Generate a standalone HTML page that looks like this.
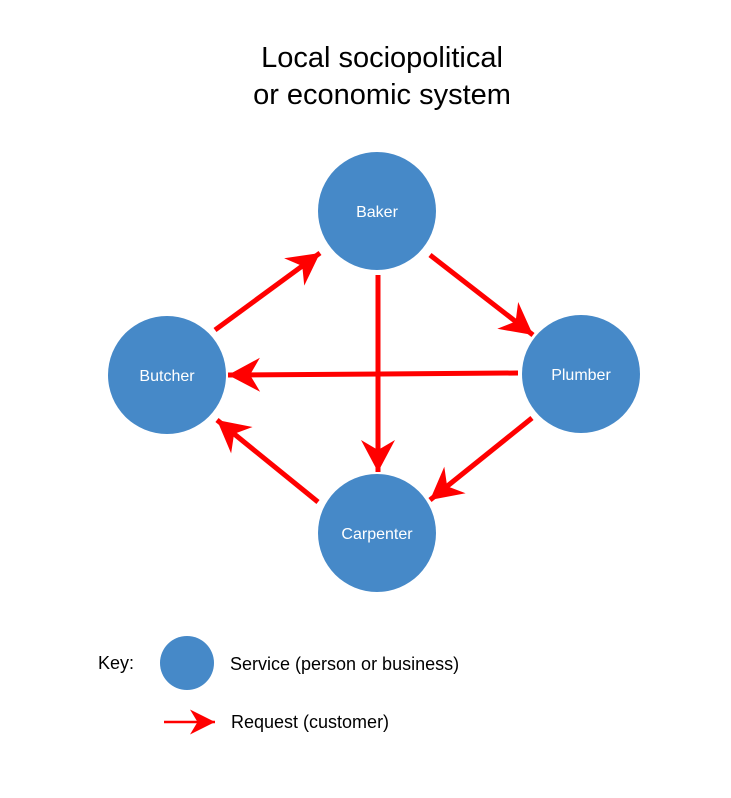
<!DOCTYPE html>
<html><head><style>
body{margin:0;background:#fff;}
svg{display:block;}
text{font-family:"Liberation Sans",sans-serif;}
</style></head><body>
<svg width="731" height="798" viewBox="0 0 731 798">
<defs>
<marker id="a" markerUnits="userSpaceOnUse" markerWidth="40" markerHeight="40" refX="0" refY="0" viewBox="-32 -20 34 40" orient="auto" overflow="visible">
<path d="M0,0 L-32,-17 L-22,0 L-32,17 Z" fill="#f00"/>
</marker>
<marker id="b" markerUnits="userSpaceOnUse" markerWidth="30" markerHeight="30" refX="0" refY="0" viewBox="-20 -12 22 24" orient="auto" overflow="visible">
<path d="M0,0 L-20,-10 L-14,0 L-20,10 Z" fill="#f00"/>
</marker>
</defs>
<text x="382" y="67" font-size="29" text-anchor="middle">Local sociopolitical</text>
<text x="382" y="104" font-size="29" text-anchor="middle">or economic system</text>
<g stroke="#f00" stroke-width="5" fill="none" marker-end="url(#a)">
<line x1="215" y1="330" x2="320" y2="253"/>
<line x1="430" y1="255" x2="533" y2="335"/>
<line x1="518" y1="373" x2="228" y2="375"/>
<line x1="378" y1="275" x2="378" y2="472"/>
<line x1="532" y1="418" x2="430" y2="500"/>
<line x1="318" y1="502" x2="217" y2="420"/>
</g>
<g fill="#4689c8">
<circle cx="377" cy="211" r="59"/>
<circle cx="167" cy="375" r="59"/>
<circle cx="581" cy="374" r="59"/>
<circle cx="377" cy="533" r="59"/>
<circle cx="187" cy="663" r="27"/>
</g>
<g fill="#fff" font-size="16" text-anchor="middle">
<text x="377" y="217">Baker</text>
<text x="167" y="381">Butcher</text>
<text x="581" y="380">Plumber</text>
<text x="377" y="539">Carpenter</text>
</g>
<text x="98" y="669" font-size="18">Key:</text>
<text x="230" y="670" font-size="18">Service (person or business)</text>
<line x1="164" y1="722" x2="215" y2="722" stroke="#f00" stroke-width="2.5" marker-end="url(#b)"/>
<text x="231" y="728" font-size="18">Request (customer)</text>
</svg>
</body></html>
